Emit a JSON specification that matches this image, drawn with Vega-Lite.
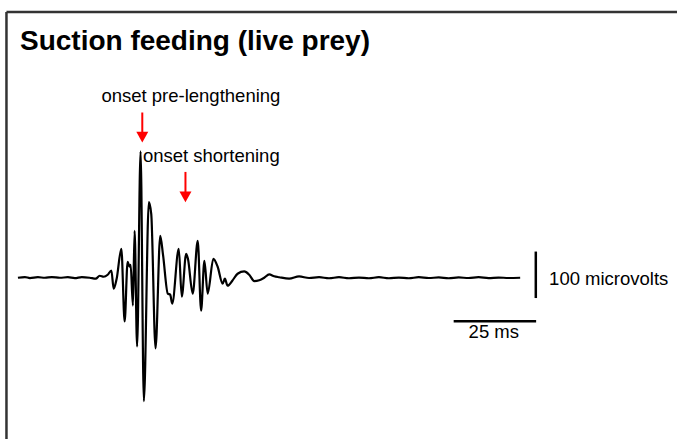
{
  "$schema": "https://vega.github.io/schema/vega-lite/v6.json",
  "width": 679,
  "height": 441,
  "padding": 0,
  "autosize": {"type": "fit", "contains": "padding"},
  "background": "white",
  "config": {"view": {"stroke": null}},
  "datasets": {
    "trace": [
      {"t": 5.44, "v": 0}, {"t": 7.56, "v": 1.5}, {"t": 9.07, "v": -0.8}, {"t": 11.49, "v": 1.1},
      {"t": 13.6, "v": 0}, {"t": 15.72, "v": 1.5}, {"t": 18.14, "v": 0}, {"t": 20.56, "v": 1.1},
      {"t": 22.67, "v": -0.8}, {"t": 24.79, "v": 1.5}, {"t": 27.21, "v": 0}, {"t": 29.02, "v": -2.1},
      {"t": 30.23, "v": 4.3}, {"t": 31.44, "v": 2.1}, {"t": 32.65, "v": 6.4}, {"t": 33.77, "v": 15.6},
      {"t": 34.46, "v": -23.6}, {"t": 35.37, "v": -2.1}, {"t": 36.79, "v": 62.1}, {"t": 37.79, "v": -94.2},
      {"t": 38.69, "v": 34.3}, {"t": 39.3, "v": 23.6}, {"t": 39.6, "v": 27.8}, {"t": 40.3, "v": -59.9},
      {"t": 40.81, "v": 100.6}, {"t": 41.57, "v": -147.7}, {"t": 42.62, "v": 271.9}, {"t": 43.62, "v": -265.5},
      {"t": 45.13, "v": 162.7}, {"t": 45.86, "v": 137.0}, {"t": 47.16, "v": -152.0}, {"t": 48.58, "v": 89.9},
      {"t": 49.43, "v": 49.2}, {"t": 50.88, "v": -34.3}, {"t": 51.6, "v": -36.4}, {"t": 52.21, "v": -55.7},
      {"t": 54.2, "v": 62.1}, {"t": 55.11, "v": -40.7}, {"t": 56.44, "v": 51.4}, {"t": 56.98, "v": 40.7},
      {"t": 58.43, "v": -34.3}, {"t": 59.95, "v": 79.2}, {"t": 60.97, "v": -70.7}, {"t": 61.97, "v": 36.4},
      {"t": 62.97, "v": -34.3}, {"t": 64.69, "v": 40.7}, {"t": 65.99, "v": 23.6}, {"t": 67.5, "v": -12.8},
      {"t": 68.17, "v": -2.1}, {"t": 69.01, "v": -17.1}, {"t": 70.44, "v": -6.4}, {"t": 72.04, "v": 8.6},
      {"t": 74.06, "v": 13.5}, {"t": 75.57, "v": 6.4}, {"t": 77.09, "v": -7.1}, {"t": 78.6, "v": -5.4},
      {"t": 80.11, "v": 0}, {"t": 81.62, "v": 7.1}, {"t": 83.13, "v": 3.2}, {"t": 84.64, "v": 1.1},
      {"t": 87.67, "v": -2.1}, {"t": 90.69, "v": 2.8}, {"t": 93.71, "v": -0.6}, {"t": 96.74, "v": 1.1},
      {"t": 99.76, "v": -1.1}, {"t": 102.78, "v": 1.1}, {"t": 105.8, "v": -1.1}, {"t": 108.83, "v": 0.4},
      {"t": 111.85, "v": -1.1}, {"t": 114.87, "v": 1.1}, {"t": 117.9, "v": -1.1}, {"t": 120.92, "v": 0.4},
      {"t": 123.94, "v": -1.1}, {"t": 126.96, "v": 1.1}, {"t": 129.99, "v": -0.6}, {"t": 133.01, "v": 0.6},
      {"t": 136.03, "v": -1.1}, {"t": 139.06, "v": 0.6}, {"t": 142.08, "v": -0.6}, {"t": 145.1, "v": 1.1},
      {"t": 148.13, "v": -0.9}, {"t": 151.15, "v": 0.4}, {"t": 154.17, "v": -0.6}, {"t": 157.71, "v": 0}
    ],
    "frame": [
      {"t": 1.96, "v": 571.6, "t2": 205.26, "v2": 571.6},
      {"t": 1.96, "v": 571.6, "t2": 1.96, "v2": -346.9}
    ],
    "bars": [
      {"t": 137.55, "v": -93.6, "t2": 162.55, "v2": -93.6},
      {"t": 162.45, "v": 56.3, "t2": 162.45, "v2": -43.7}
    ],
    "shafts": [
      {"t": 43.14, "v": 355.4, "t2": 43.14, "v2": 312.6},
      {"t": 56.23, "v": 227.6, "t2": 56.23, "v2": 184.1}
    ],
    "heads": [
      {"t": 43.14, "v": 302.5},
      {"t": 56.23, "v": 174.1}
    ],
    "labels": [
      {"t": 30.74, "v": 377.5, "text": "onset pre-lengthening"},
      {"t": 43.32, "v": 249.0, "text": "onset shortening"},
      {"t": 166.48, "v": -15.0, "text": "100 microvolts"},
      {"t": 142.08, "v": -130.6, "text": "25 ms"}
    ],
    "title": [
      {"t": 6.05, "v": 490.3, "text": "Suction feeding (live prey)"}
    ]
  },
  "layer": [
    {
      "data": {"name": "trace"},
      "mark": {"type": "line", "color": "black", "strokeWidth": 2.2, "strokeJoin": "round", "interpolate": "monotone"},
      "encoding": {
        "x": {"field": "t", "type": "quantitative", "axis": null, "scale": {"domain": [0, 205.26], "nice": false, "zero": false}},
        "y": {"field": "v", "type": "quantitative", "axis": null, "scale": {"domain": [-346.9, 597.4], "nice": false, "zero": false}}
      }
    },
    {
      "data": {"name": "frame"},
      "mark": {"type": "rule", "color": "#333333", "strokeWidth": 2.5},
      "encoding": {
        "x": {"field": "t", "type": "quantitative"},
        "y": {"field": "v", "type": "quantitative"},
        "x2": {"field": "t2"},
        "y2": {"field": "v2"}
      }
    },
    {
      "data": {"name": "bars"},
      "mark": {"type": "rule", "color": "black", "strokeWidth": 2.5},
      "encoding": {
        "x": {"field": "t", "type": "quantitative"},
        "y": {"field": "v", "type": "quantitative"},
        "x2": {"field": "t2"},
        "y2": {"field": "v2"}
      }
    },
    {
      "data": {"name": "shafts"},
      "mark": {"type": "rule", "color": "#ff0000", "strokeWidth": 2},
      "encoding": {
        "x": {"field": "t", "type": "quantitative"},
        "y": {"field": "v", "type": "quantitative"},
        "x2": {"field": "t2"},
        "y2": {"field": "v2"}
      }
    },
    {
      "data": {"name": "heads"},
      "mark": {"type": "point", "shape": "M-1,-0.9L1,-0.9L0,0.9Z", "size": 144, "filled": true, "color": "#ff0000", "opacity": 1, "strokeWidth": 0},
      "encoding": {
        "x": {"field": "t", "type": "quantitative"},
        "y": {"field": "v", "type": "quantitative"}
      }
    },
    {
      "data": {"name": "labels"},
      "mark": {"type": "text", "font": "Liberation Sans", "fontSize": 18.5, "align": "left", "baseline": "alphabetic", "color": "black"},
      "encoding": {
        "x": {"field": "t", "type": "quantitative"},
        "y": {"field": "v", "type": "quantitative"},
        "text": {"field": "text"}
      }
    },
    {
      "data": {"name": "title"},
      "mark": {"type": "text", "font": "Liberation Sans", "fontSize": 28, "fontWeight": "bold", "align": "left", "baseline": "alphabetic", "color": "black"},
      "encoding": {
        "x": {"field": "t", "type": "quantitative"},
        "y": {"field": "v", "type": "quantitative"},
        "text": {"field": "text"}
      }
    }
  ]
}
